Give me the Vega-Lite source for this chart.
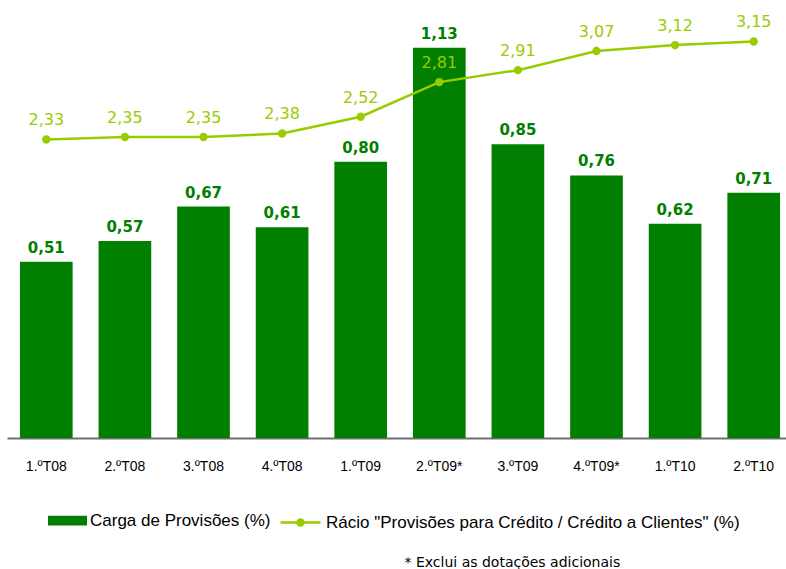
{
  "$schema": "https://vega.github.io/schema/vega-lite/v6.json",
  "width": 786,
  "height": 418,
  "autosize": {"type": "none"},
  "padding": {"left": 7, "top": 20, "right": 0, "bottom": 131},
  "background": "white",
  "config": {
    "view": {"stroke": null},
    "locale": {"number": {"decimal": ",", "thousands": ".", "grouping": [3], "currency": ["", " €"]}}
  },
  "data": {
    "values": [
      {"q": "1.ºT08", "carga": 0.51, "racio": 2.33},
      {"q": "2.ºT08", "carga": 0.57, "racio": 2.35},
      {"q": "3.ºT08", "carga": 0.67, "racio": 2.35},
      {"q": "4.ºT08", "carga": 0.61, "racio": 2.38},
      {"q": "1.ºT09", "carga": 0.80, "racio": 2.52},
      {"q": "2.ºT09*", "carga": 1.13, "racio": 2.81},
      {"q": "3.ºT09", "carga": 0.85, "racio": 2.91},
      {"q": "4.ºT09*", "carga": 0.76, "racio": 3.07},
      {"q": "1.ºT10", "carga": 0.62, "racio": 3.12},
      {"q": "2.ºT10", "carga": 0.71, "racio": 3.15}
    ]
  },
  "encoding": {
    "x": {
      "field": "q",
      "type": "nominal",
      "sort": null,
      "title": "* Exclui as dotações adicionais",
      "scale": {"paddingInner": 0.33, "paddingOuter": 0.165},
      "axis": {
        "labelAngle": 0,
        "ticks": false,
        "domainColor": "#6e6e6e",
        "domainWidth": 2,
        "labelFont": "Liberation Sans",
        "labelFontSize": 14,
        "labelColor": "#000000",
        "labelPadding": 21,
        "titleFont": "DejaVu Sans",
        "titleFontSize": 14,
        "titleFontWeight": "normal",
        "titleColor": "#000000",
        "titleAlign": "left",
        "titleAnchor": null,
        "titleBaseline": "middle",
        "titleX": 397,
        "titleY": 124
      }
    }
  },
  "layer": [
    {
      "layer": [
        {
          "mark": {"type": "bar"},
          "encoding": {
            "y": {"field": "carga", "type": "quantitative", "scale": {"domain": [0, 1.21]}, "axis": null},
            "fill": {
              "datum": "Carga de Provisões (%)",
              "scale": {"range": ["#007f00"]},
              "legend": {
                "title": null,
                "orient": "none",
                "legendX": 41,
                "legendY": 481,
                "padding": 0,
                "symbolType": "M-1,-0.25H1V0.25H-1Z",
                "symbolSize": 1521,
                "symbolStrokeWidth": 0,
                "labelFont": "Liberation Sans",
                "labelFontSize": 17,
                "labelColor": "#000000",
                "labelOffset": 3,
                "labelLimit": 0
              }
            }
          }
        },
        {
          "mark": {"type": "text", "font": "DejaVu Sans", "fontSize": 15, "fontWeight": "bold", "color": "#007f00", "baseline": "alphabetic", "dy": -9},
          "encoding": {
            "y": {"field": "carga", "type": "quantitative", "scale": {"domain": [0, 1.21]}, "axis": null},
            "text": {"field": "carga", "type": "quantitative", "format": ".2f"}
          }
        }
      ]
    },
    {
      "layer": [
        {
          "mark": {"type": "line", "strokeWidth": 2.5},
          "encoding": {
            "y": {"field": "racio", "type": "quantitative", "scale": {"domain": [-0.17, 3.33]}, "axis": null},
            "stroke": {
              "datum": "Rácio \"Provisões para Crédito / Crédito a Clientes\" (%)",
              "scale": {"range": ["#99cc00"]},
              "legend": {
                "title": null,
                "orient": "none",
                "legendX": 272,
                "legendY": 481,
                "padding": 0,
                "symbolType": "M-1,0H1M-0.15,0A0.15,0.15 0 1 1 0.15,0A0.15,0.15 0 1 1 -0.15,0Z",
                "symbolSize": 1600,
                "symbolStrokeWidth": 2.5,
                "symbolFillColor": "#99cc00",
                "labelFont": "Liberation Sans",
                "labelFontSize": 17,
                "labelColor": "#000000",
                "labelOffset": 4,
                "labelLimit": 0
              }
            }
          }
        },
        {
          "mark": {"type": "point", "filled": true, "size": 70, "color": "#99cc00", "opacity": 1},
          "encoding": {
            "y": {"field": "racio", "type": "quantitative", "scale": {"domain": [-0.17, 3.33]}, "axis": null}
          }
        },
        {
          "mark": {"type": "text", "font": "DejaVu Sans", "fontSize": 16, "fontWeight": 500, "color": "#99cc00", "baseline": "alphabetic", "dy": -14},
          "encoding": {
            "y": {"field": "racio", "type": "quantitative", "scale": {"domain": [-0.17, 3.33]}, "axis": null},
            "text": {"field": "racio", "type": "quantitative", "format": ".2f"}
          }
        }
      ]
    }
  ],
  "resolve": {"scale": {"y": "independent", "fill": "independent", "stroke": "independent"}}
}
